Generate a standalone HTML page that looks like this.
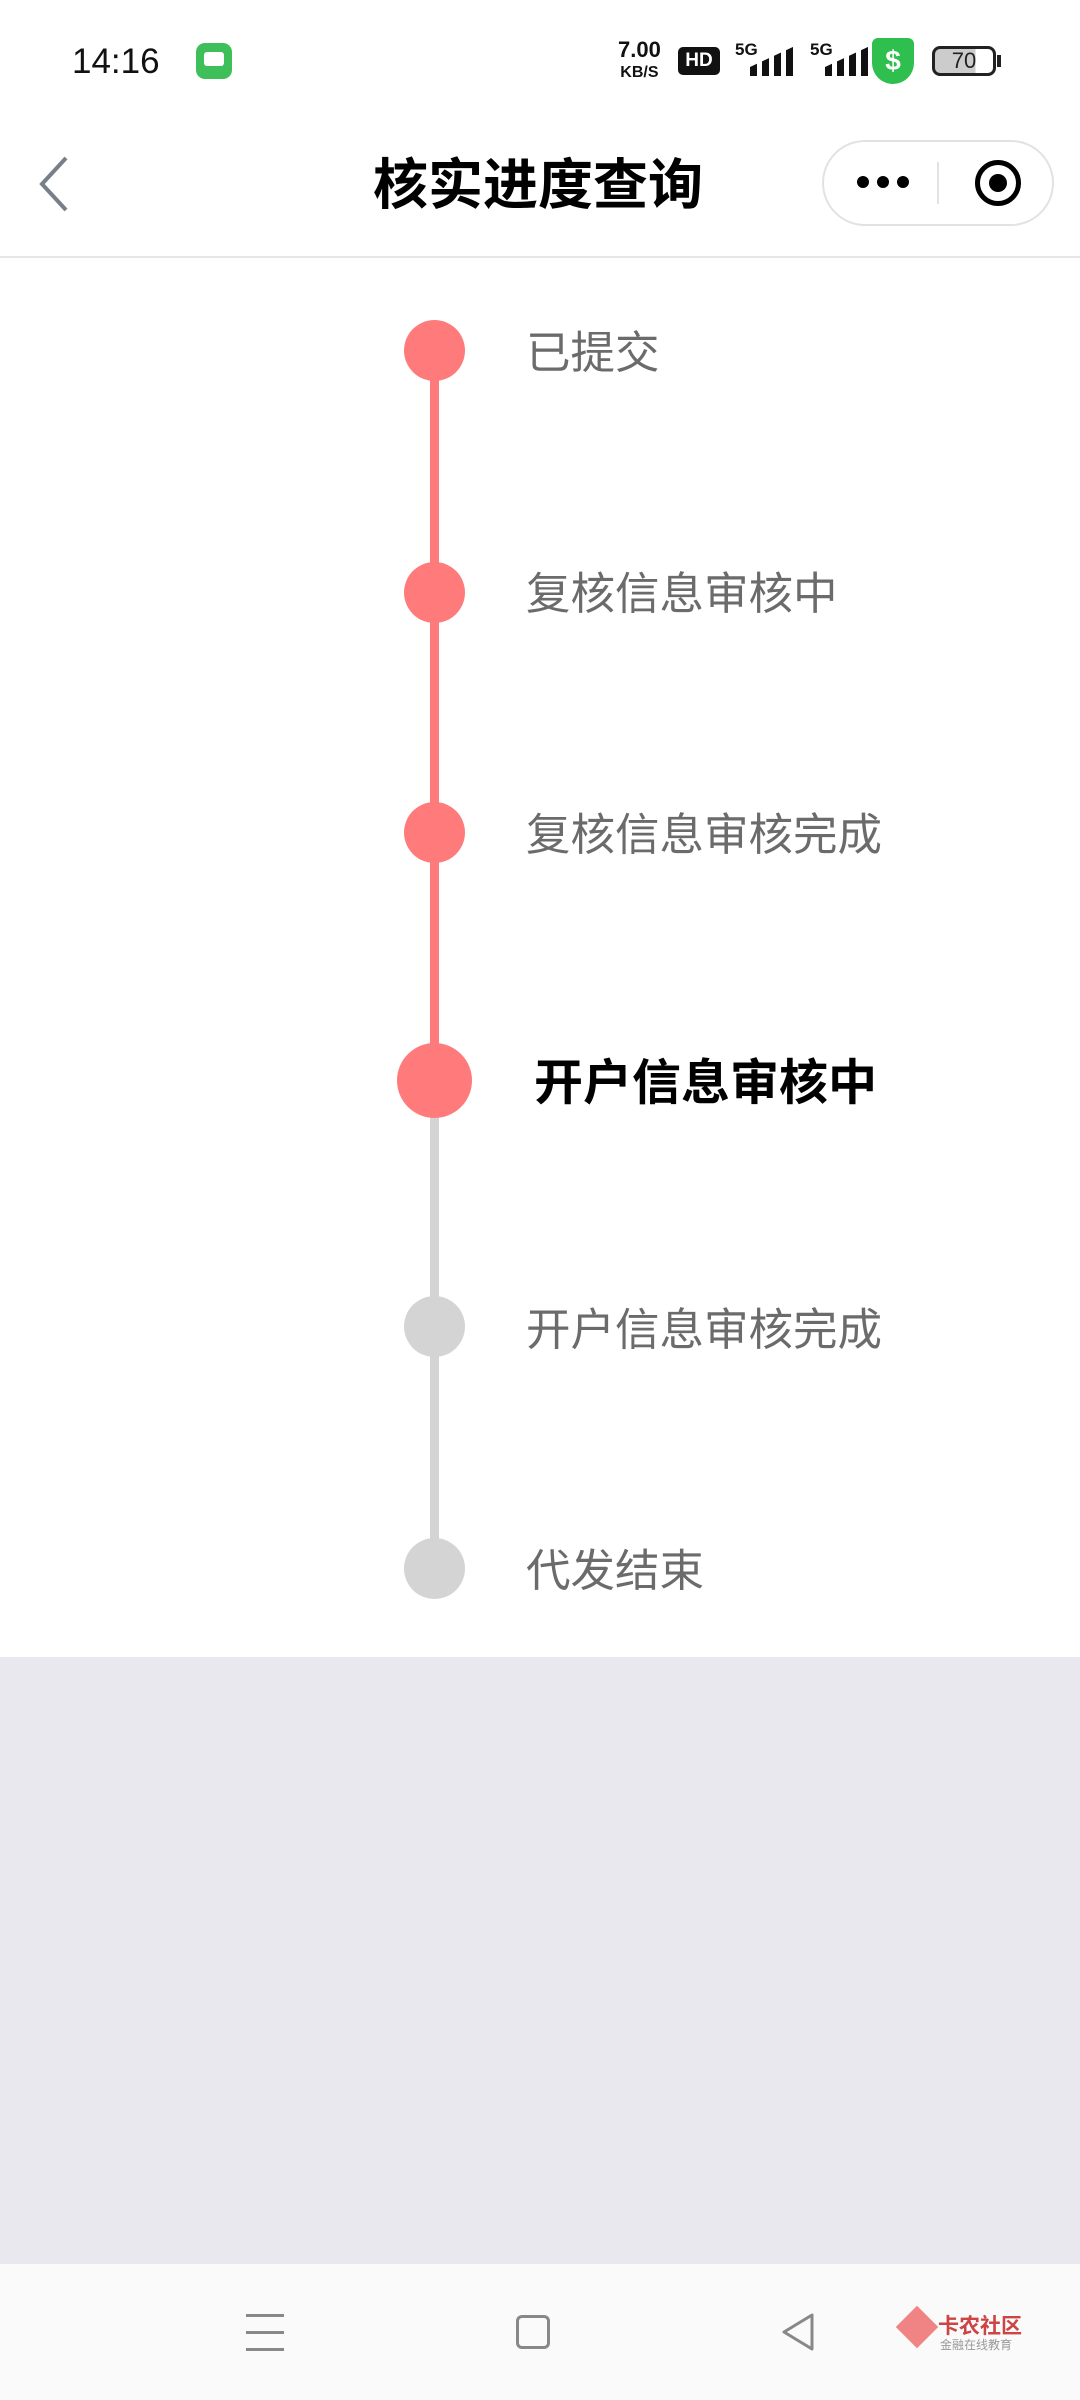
<!DOCTYPE html>
<html><head><meta charset="utf-8">
<style>
*{margin:0;padding:0;box-sizing:border-box}
body{width:1080px;height:2400px;background:#fff;position:relative;overflow:hidden;font-family:"Liberation Sans","Noto Sans CJK SC",sans-serif}
.abs{position:absolute}
.dot{position:absolute;border-radius:50%}
.lbl{position:absolute;font-size:44.5px;color:#6b6b6b;line-height:1;transform:translateY(-50%)}
</style></head><body>
<!-- status bar -->
<div class="abs" style="left:72px;top:42px;font-size:35px;color:#111">14:16</div>
<div class="abs" style="left:196px;top:43px;width:36px;height:36px;border-radius:9px;background:#3fbf5a"></div>
<div class="abs" style="left:204px;top:52px;width:20px;height:14px;border-radius:3px;background:#fff"></div>
<div class="abs" style="left:618px;top:40px;font-size:22px;font-weight:bold;line-height:20px;text-align:center;color:#111">7.00<br><span style="font-size:16px">KB/S</span></div>
<div class="abs" style="left:678px;top:47px;width:42px;height:28px;background:#111;border-radius:5px;color:#fff;font-size:19px;font-weight:bold;text-align:center;line-height:28px">HD</div>
<div class="abs" style="left:735px;top:40px;font-size:17px;font-weight:bold;color:#111">5G</div>
<div class="abs" style="left:750px;top:46px;width:45px;height:30px;background:linear-gradient(90deg,#111 0 7px,transparent 7px 12px,#111 12px 19px,transparent 19px 24px,#111 24px 31px,transparent 31px 36px,#111 36px 43px,transparent 43px);clip-path:polygon(0 70%,100% 0,100% 100%,0 100%)"></div>
<div class="abs" style="left:810px;top:40px;font-size:17px;font-weight:bold;color:#111">5G</div>
<div class="abs" style="left:825px;top:46px;width:45px;height:30px;background:linear-gradient(90deg,#111 0 7px,transparent 7px 12px,#111 12px 19px,transparent 19px 24px,#111 24px 31px,transparent 31px 36px,#111 36px 43px,transparent 43px);clip-path:polygon(0 70%,100% 0,100% 100%,0 100%)"></div>
<div class="abs" style="left:872px;top:38px;width:42px;height:46px;background:#2fbf4f;border-radius:6px 6px 21px 21px;color:#fff;font-size:28px;font-weight:bold;text-align:center;line-height:46px">$</div>
<div class="abs" style="left:932px;top:46px;width:64px;height:30px;border:3px solid #222;border-radius:8px;font-size:22px;text-align:center;line-height:24px;color:#222;background:linear-gradient(90deg,#ccc 70%,transparent 70%)">70</div>
<div class="abs" style="left:997px;top:55px;width:4px;height:12px;background:#222"></div>
<!-- header -->
<svg class="abs" style="left:36px;top:154px" width="36" height="60"><polyline points="30,4 6,30 30,56" fill="none" stroke="#777f88" stroke-width="4"/></svg>
<div class="abs" style="left:0;width:1076px;top:140px;text-align:center;font-size:55px;font-weight:bold;color:#000">核实进度查询</div>
<div class="abs" style="left:822px;top:140px;width:232px;height:86px;border:2px solid #e2e2e2;border-radius:43px"></div>
<div class="abs" style="left:937px;top:162px;width:2px;height:42px;background:#e2e2e2"></div>
<div class="abs" style="left:857px;top:176px;width:12px;height:12px;border-radius:50%;background:#000;box-shadow:20px 0 #000,40px 0 #000"></div>
<div class="abs" style="left:975px;top:160px;width:46px;height:46px;border:5px solid #000;border-radius:50%"></div>
<div class="abs" style="left:989px;top:174px;width:18px;height:18px;border-radius:50%;background:#000"></div>
<div class="abs" style="left:0;top:256px;width:1080px;height:2px;background:#e6e6e6"></div>
<!-- timeline -->
<div class="abs" style="left:430px;top:350px;width:9px;height:730px;background:#ff7b7b"></div>
<div class="abs" style="left:430px;top:1080px;width:9px;height:488px;background:#d4d4d4"></div>
<div class="dot" style="left:404px;top:320px;width:61px;height:61px;background:#ff7b7b"></div>
<div class="dot" style="left:404px;top:562px;width:61px;height:61px;background:#ff7b7b"></div>
<div class="dot" style="left:404px;top:802px;width:61px;height:61px;background:#ff7b7b"></div>
<div class="dot" style="left:397px;top:1043px;width:75px;height:75px;background:#ff7b7b"></div>
<div class="dot" style="left:404px;top:1296px;width:61px;height:61px;background:#d4d4d4"></div>
<div class="dot" style="left:404px;top:1538px;width:61px;height:61px;background:#d4d4d4"></div>
<div class="lbl" style="left:526px;top:354px">已提交</div>
<div class="lbl" style="left:526px;top:595px">复核信息审核中</div>
<div class="lbl" style="left:526px;top:836px">复核信息审核完成</div>
<div class="lbl" style="left:534px;top:1084px;font-size:49px;font-weight:bold;color:#000">开户信息审核中</div>
<div class="lbl" style="left:526px;top:1331px">开户信息审核完成</div>
<div class="lbl" style="left:526px;top:1572px">代发结束</div>
<!-- gray area -->
<div class="abs" style="left:0;top:1657px;width:1080px;height:607px;background:#e9e8ee"></div>
<div class="abs" style="left:0;top:2264px;width:1080px;height:136px;background:#fafafa"></div>
<!-- nav bar -->
<div class="abs" style="left:246px;top:2314px;width:38px;height:3px;background:#888;box-shadow:0 17px #888,0 34px #888"></div>
<div class="abs" style="left:516px;top:2315px;width:34px;height:34px;border:3px solid #888;border-radius:6px"></div>
<svg class="abs" style="left:780px;top:2312px" width="36" height="40"><polygon points="32,3 4,20 32,37" fill="none" stroke="#888" stroke-width="3" stroke-linejoin="round"/></svg>
<div class="abs" style="left:902px;top:2312px;width:30px;height:30px;background:#e66;transform:rotate(45deg);opacity:.8"></div>
<div class="abs" style="left:938px;top:2310px;font-size:21px;color:#c44;font-weight:bold">卡农社区</div>
<div class="abs" style="left:940px;top:2336px;font-size:12px;color:#999">金融在线教育</div>
</body></html>
